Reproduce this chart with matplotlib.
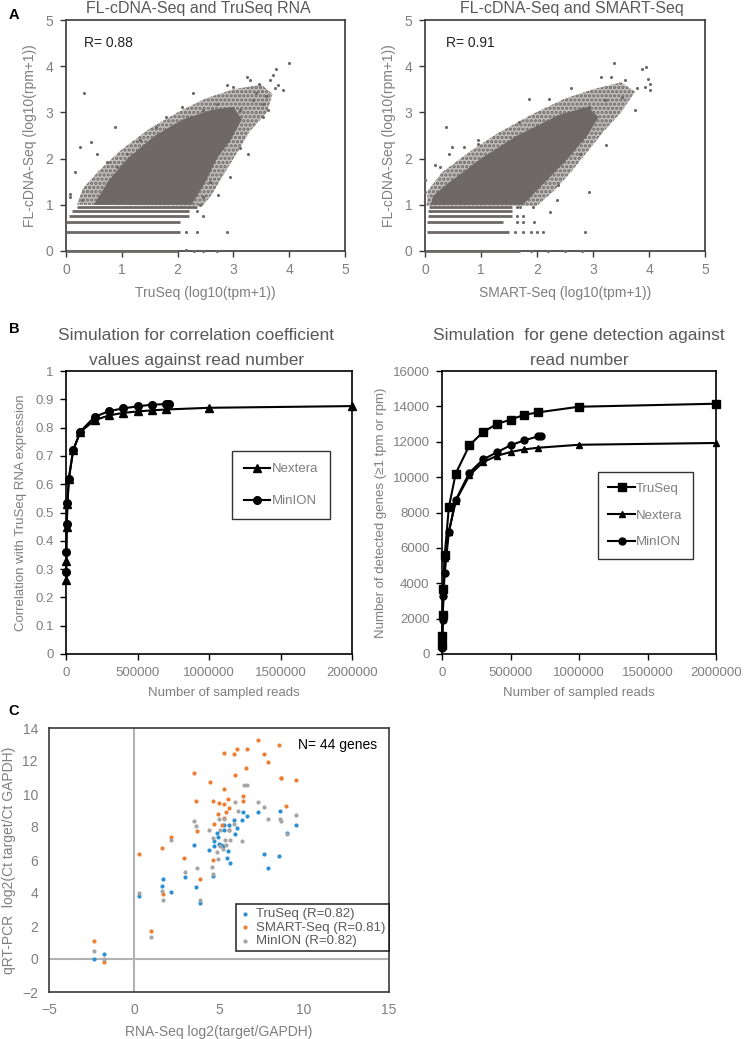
import matplotlib
matplotlib.use('Agg')
import matplotlib.pyplot as plt
from matplotlib.patches import Polygon

plt.rcParams['font.family'] = ['Liberation Sans', 'DejaVu Sans']
plt.rcParams['hatch.linewidth'] = 1.6

# ---------------- DATA ----------------
# Panel A: dense cloud envelopes (inner = solid, outer = speckled halo), count stripes, outliers
a_stripe_y = [0.0, 0.41, 0.617, 0.757, 0.862, 0.947]

a1_inner_x = [0.5, 0.75, 1.1, 1.6, 2.1, 2.6, 3.0, 3.15, 2.95, 2.7, 2.5, 2.25]
a1_inner_y = [1.0, 1.5, 2.0, 2.5, 2.85, 3.05, 3.12, 2.85, 2.4, 2.0, 1.5, 1.0]
a1_outer_x = [0.2, 0.3, 0.6, 1.0, 1.5, 2.0, 2.5, 3.0, 3.5, 3.7, 3.6, 3.3, 3.05, 2.8, 2.6, 2.45]
a1_outer_y = [1.0, 1.35, 1.75, 2.2, 2.65, 3.0, 3.3, 3.5, 3.6, 3.4, 3.0, 2.6, 2.1, 1.6, 1.2, 0.98]
a1_stripe_x0 = [0.0, 0.0, 0.0, 0.05, 0.1, 0.2]
a1_stripe_x1 = [2.0, 2.05, 2.05, 2.2, 2.2, 2.35]
a1_out_x = [0.33, 0.88, 0.25, 0.44, 0.55, 0.07, 0.08, 0.16, 0.28, 0.73, 3.99, 3.76, 3.71, 3.75,
            3.89, 3.24, 2.88, 3.0, 2.28, 2.07, 3.27, 3.12, 2.94, 2.73, 2.58, 2.88, 3.53, 3.36,
            3.62, 3.53, 3.41, 3.12, 2.7, 2.46, 1.8, 1.62, 1.33, 1.09, 0.91, 2.4, 2.46, 2.15,
            2.35, 2.45, 2.35, 2.15, 2.3, 2.7, 2.45, 3.3, 3.45, 3.65, 3.58, 3.8]
a1_out_y = [3.43, 2.69, 2.25, 2.36, 2.11, 1.24, 1.17, 1.71, 1.1, 1.93, 4.08, 3.95, 3.8, 3.52,
            3.48, 3.77, 3.59, 3.55, 3.43, 3.12, 2.11, 2.22, 1.6, 1.21, 1.49, 0.41, 3.19, 3.26,
            3.05, 2.9, 3.41, 3.05, 3.19, 3.05, 2.9, 2.69, 2.4, 2.11, 1.82, 0.99, 1.17, 0.41,
            0.41, 0.757, 0.862, 0.02, 0.0, 0.0, 0.01, 3.7, 3.62, 3.7, 3.35, 3.6]

a2_inner_x = [0.1, 0.15, 0.45, 1.0, 1.65, 2.4, 2.9, 3.1, 2.9, 2.55, 2.15, 1.75]
a2_inner_y = [1.0, 1.2, 1.5, 2.0, 2.5, 2.95, 3.12, 2.9, 2.5, 2.0, 1.5, 1.0]
a2_outer_x = [0.03, 0.05, 0.3, 0.8, 1.3, 1.9, 2.5, 3.0, 3.5, 3.75, 3.5, 3.2, 2.9, 2.6, 2.3, 2.0]
a2_outer_y = [0.98, 1.3, 1.7, 2.15, 2.55, 2.95, 3.3, 3.5, 3.65, 3.45, 3.0, 2.6, 2.15, 1.7, 1.3, 0.98]
a2_stripe_x0 = [0.0, 0.03, 0.03, 0.05, 0.05, 0.07]
a2_stripe_x1 = [1.7, 1.5, 1.4, 1.55, 1.55, 1.55]
a2_out_x = [0.37, 0.48, 0.43, 0.7, 0.18, 0.27, 0.0, 0.0, 0.94, 0.95, 1.42, 1.67, 1.86, 2.21,
            2.61, 3.38, 3.14, 3.33, 3.57, 3.88, 3.94, 3.99, 4.02, 4.01, 3.93, 3.78, 3.75, 3.23,
            2.77, 2.92, 2.86, 2.24, 2.35, 2.38, 2.02, 1.93, 3.51, 3.21, 2.92, 1.6, 1.75, 1.9,
            2.0, 2.1, 1.65, 1.75, 1.95, 1.65, 1.75, 1.65, 1.7, 1.9, 2.2, 2.5, 2.8]
a2_out_y = [2.69, 2.25, 2.11, 2.25, 1.86, 1.82, 1.53, 1.28, 2.4, 2.32, 2.25, 2.79, 3.3, 3.28,
            3.53, 4.08, 3.77, 3.77, 3.7, 3.95, 3.99, 3.73, 3.62, 3.49, 3.55, 3.52, 3.05, 2.29,
            2.11, 1.28, 0.41, 0.84, 1.1, 1.42, 1.39, 0.95, 3.34, 3.26, 3.12, 0.41, 0.41, 0.41,
            0.41, 0.41, 0.617, 0.617, 0.617, 0.757, 0.757, 0.947, 0.947, 0.0, 0.01, 0.0, 0.0]

# Panel B
reads_other = [1000, 2000, 5000, 10000, 20000, 50000, 100000, 200000, 300000, 400000,
               500000, 600000, 700000, 1000000, 2000000]
reads_minion = [1000, 2000, 5000, 10000, 20000, 50000, 100000, 200000, 300000, 400000,
                500000, 600000, 700000, 720000]
nextera_r = [0.26, 0.33, 0.45, 0.53, 0.62, 0.72, 0.785, 0.826, 0.843, 0.852, 0.857, 0.861,
             0.864, 0.870, 0.876]
minion_r = [0.29, 0.36, 0.46, 0.535, 0.62, 0.72, 0.786, 0.838, 0.858, 0.868, 0.875, 0.881,
            0.883, 0.884]
truseq_g = [500, 1000, 2200, 3700, 5600, 8300, 10200, 11800, 12550, 13000, 13250, 13520,
            13660, 13980, 14150]
nextera_g = [400, 900, 2000, 3400, 5400, 6900, 8650, 10100, 10850, 11200, 11420, 11570,
             11660, 11830, 11930]
minion_g = [350, 800, 1900, 3300, 4600, 6900, 8700, 10250, 11000, 11400, 11800, 12080,
            12300, 12320]

# Panel C
truseq_x = [7.29, 8.59, 9.53, 8.98, 7.66, 8.5, 7.89, 6.4, 6.62, 6.33, 6.07, 5.9, 5.94, 5.61,
            5.27, 5.27, 4.9, 4.92, 4.69, 4.69, 4.43, 4.98, 5.14, 5.25, 5.55, 5.45, 5.64, 4.63,
            3.54, 2.99, 1.68, 1.62, 2.2, 3.63, 3.91, 0.31, -2.34, -1.76]
truseq_y = [8.91, 9.0, 8.1, 7.63, 6.36, 6.23, 5.5, 8.89, 8.64, 8.4, 7.94, 8.4, 7.55, 8.14,
            8.14, 7.83, 7.63, 7.41, 7.15, 6.82, 6.58, 6.94, 6.9, 6.86, 6.52, 6.13, 5.81, 5.06,
            6.9, 4.96, 4.84, 4.43, 4.09, 4.39, 3.38, 3.83, 0.02, 0.3]
smart_x = [7.29, 8.5, 5.29, 5.88, 6.07, 6.64, 7.66, 7.91, 3.54, 4.45, 5.94, 6.56, 8.63, 8.67,
           9.53, 5.27, 3.65, 4.65, 5.0, 5.27, 5.53, 6.4, 6.43, 8.96, 5.59, 5.43, 4.94, 5.31,
           4.71, 5.16, 5.57, 3.71, 2.2, 1.62, 2.97, 4.65, 0.31, 3.91, 1.68, 0.98, -2.34, -1.76]
smart_y = [13.28, 13.0, 12.5, 12.45, 12.75, 12.7, 12.45, 11.94, 11.3, 10.7, 11.17, 11.6, 10.95,
           11.0, 10.87, 10.3, 9.6, 9.57, 9.47, 9.39, 9.72, 9.6, 9.9, 9.27, 9.17, 8.89, 8.79, 8.52,
           8.16, 8.1, 7.83, 7.73, 7.41, 6.74, 6.13, 6.03, 6.36, 4.84, 3.93, 1.72, 1.11, -0.2]
minion_x = [6.46, 6.66, 5.92, 7.29, 7.66, 6.09, 5.0, 5.29, 7.89, 8.59, 8.67, 9.53, 8.98, 3.54,
            3.65, 4.43, 5.04, 5.57, 5.9, 4.67, 2.2, 5.63, 5.35, 6.37, 5.04, 5.41, 5.21, 4.88,
            4.92, 4.61, 3.69, 2.99, 4.67, 1.62, 1.68, 3.91, 0.31, 0.98, -2.34, -1.76]
minion_y = [10.53, 10.53, 9.49, 9.51, 9.19, 8.95, 8.48, 8.48, 8.48, 8.48, 8.36, 8.72, 7.57, 8.34,
            8.04, 7.83, 7.83, 7.83, 8.2, 7.35, 7.21, 7.19, 7.19, 7.17, 6.84, 6.88, 6.68, 6.48,
            6.05, 5.57, 5.53, 5.26, 5.14, 4.15, 3.58, 3.58, 3.97, 1.36, 0.47, 0.0]

# ---------------- STYLE ----------------
W, H = 744, 1039
fig = plt.figure(figsize=(W / 100, H / 100), dpi=100)


def frame(l, t, r, b):
    return [l / W, 1 - b / H, (r - l) / W, (b - t) / H]


TXT = '#7f7f7f'
TTL = '#595959'
SCAT = '#6e6868'
SPINE = '#3a3a3a'


def style(ax, tick_size, spine_col=SPINE, ticks=True):
    for s in ax.spines.values():
        s.set_color(spine_col)
        s.set_linewidth(1.2)
    ax.tick_params(axis='both', colors=spine_col, labelcolor=TXT, labelsize=tick_size,
                   direction='out', length=4 if ticks else 0, width=1.0, pad=5)


# ---------------- PANEL A ----------------
def panel_a(rect, title, tx, xlabel, rtext, inner_x, inner_y, outer_x, outer_y,
            sx0, sx1, out_x, out_y, rx):
    ax = fig.add_axes(rect)
    ax.set_xlim(0, 5)
    ax.set_ylim(0, 5)
    ax.add_patch(Polygon(list(zip(outer_x, outer_y)), closed=True, fc=SCAT, ec='none', alpha=0.42,
                         zorder=1))
    ax.add_patch(Polygon(list(zip(outer_x, outer_y)), closed=True, fc='none', ec=SCAT, lw=0,
                         hatch='....', zorder=1))
    ax.add_patch(Polygon(list(zip(inner_x, inner_y)), closed=True, fc=SCAT, ec='none', zorder=2))
    ax.hlines(a_stripe_y, sx0, sx1, colors=SCAT, linewidth=2.0, clip_on=False, zorder=3)
    ax.scatter(out_x, out_y, s=5, c=SCAT, linewidths=0, clip_on=False, zorder=3)
    ax.set_xticks(range(6))
    ax.set_yticks(range(6))
    style(ax, 10)
    ax.set_title(title, color=TTL, fontsize=11.5, pad=5, x=tx)
    ax.set_xlabel(xlabel, color=TXT, fontsize=10, labelpad=6)
    ax.set_ylabel('FL-cDNA-Seq (log10(rpm+1))', color=TXT, fontsize=10, labelpad=6)
    ax.text(rx, 0.9, rtext, transform=ax.transAxes, fontsize=10, color='#222222', va='center')
    return ax


panel_a(frame(66, 20, 345, 251), 'FL-cDNA-Seq and TruSeq RNA', 0.473, 'TruSeq (log10(tpm+1))',
        'R= 0.88', a1_inner_x, a1_inner_y, a1_outer_x, a1_outer_y,
        a1_stripe_x0, a1_stripe_x1, a1_out_x, a1_out_y, 0.065)
panel_a(frame(425, 20, 705, 251), 'FL-cDNA-Seq and SMART-Seq', 0.525, 'SMART-Seq (log10(tpm+1))',
        'R= 0.91', a2_inner_x, a2_inner_y, a2_outer_x, a2_outer_y,
        a2_stripe_x0, a2_stripe_x1, a2_out_x, a2_out_y, 0.075)

# ---------------- PANEL B ----------------
xt = [0, 500000, 1000000, 1500000, 2000000]

axb1 = fig.add_axes(frame(66, 371, 352, 654))
axb1.plot(reads_other, nextera_r, '-^', color='black', lw=1.5, ms=5.5, label='Nextera', clip_on=False)
axb1.plot(reads_minion, minion_r, '-o', color='black', lw=1.5, ms=5.5, label='MinION', clip_on=False)
axb1.set_xlim(0, 2000000)
axb1.set_ylim(0, 1)
axb1.set_xticks(xt)
axb1.set_xticklabels([str(v) for v in xt])
axb1.set_yticks([i / 10 for i in range(11)])
axb1.set_yticklabels(['0', '0.1', '0.2', '0.3', '0.4', '0.5', '0.6', '0.7', '0.8', '0.9', '1'])
style(axb1, 9.5, spine_col='black')
axb1.set_title('Simulation for correlation coefficient\nvalues against read number',
               color=TTL, fontsize=12.5, linespacing=1.9, pad=4, x=0.455)
axb1.set_xlabel('Number of sampled reads', color=TXT, fontsize=9.5, labelpad=7)
axb1.xaxis.set_label_coords(0.552, -0.115)
axb1.set_ylabel('Correlation with TruSeq RNA expression', color=TXT, fontsize=9.5, labelpad=6)
lg = axb1.legend(loc='upper left', bbox_to_anchor=(0.58, 0.717), frameon=True, fancybox=False,
                 edgecolor='black', fontsize=9.5, labelspacing=1.5, handlelength=2.0,
                 handletextpad=0.1, borderpad=0.9, borderaxespad=0)
lg.get_frame().set_linewidth(1.0)
for t in lg.get_texts():
    t.set_color(TXT)

axb2 = fig.add_axes(frame(442, 371, 716, 654))
axb2.plot(reads_other, truseq_g, '-s', color='black', lw=1.5, ms=5.5, label='TruSeq', clip_on=False)
axb2.plot(reads_other, nextera_g, '-^', color='black', lw=1.5, ms=5.0, label='Nextera', clip_on=False)
axb2.plot(reads_minion, minion_g, '-o', color='black', lw=1.5, ms=5.0, label='MinION', clip_on=False)
axb2.set_xlim(0, 2000000)
axb2.set_ylim(0, 16000)
axb2.set_xticks(xt)
axb2.set_xticklabels([str(v) for v in xt])
axb2.set_yticks(range(0, 16001, 2000))
style(axb2, 9.5, spine_col='black')
axb2.set_title('Simulation  for gene detection against\nread number',
               color=TTL, fontsize=12.5, linespacing=1.9, pad=4)
axb2.set_xlabel('Number of sampled reads', color=TXT, fontsize=9.5, labelpad=7)
axb2.xaxis.set_label_coords(0.5, -0.115)
axb2.set_ylabel('Number of detected genes (\u22651 tpm or rpm)', color=TXT, fontsize=9.5, labelpad=4)
lg2 = axb2.legend(loc='upper left', bbox_to_anchor=(0.569, 0.643), frameon=True, fancybox=False,
                  edgecolor='black', fontsize=9.5, labelspacing=1.1, handlelength=2.0,
                  handletextpad=0.1, borderpad=0.8, borderaxespad=0)
lg2.get_frame().set_linewidth(1.0)
for t in lg2.get_texts():
    t.set_color(TXT)

# ---------------- PANEL C ----------------
axc = fig.add_axes(frame(49, 728, 389, 992))
axc.axvline(0, color='#b3b3b3', lw=1.5, zorder=1)
axc.axhline(0, color='#b3b3b3', lw=1.5, zorder=1)
axc.scatter(truseq_x, truseq_y, s=9, c='#2b8fd3', linewidths=0, label='TruSeq (R=0.82)', zorder=3)
axc.scatter(smart_x, smart_y, s=9, c='#ed7d31', linewidths=0, label='SMART-Seq (R=0.81)', zorder=3)
axc.scatter(minion_x, minion_y, s=9, c='#a5a5a5', linewidths=0, label='MinION (R=0.82)', zorder=3)
axc.set_xlim(-5, 15)
axc.set_ylim(-2, 14)
axc.set_xticks([-5, 0, 5, 10, 15])
axc.set_yticks(range(-2, 15, 2))
style(axc, 10, ticks=False)
axc.tick_params(pad=8)
axc.set_xlabel('RNA-Seq log2(target/GAPDH)', color=TXT, fontsize=10, labelpad=6)
axc.set_ylabel('qRT-PCR  log2(Ct target/Ct GAPDH)', color=TXT, fontsize=10, labelpad=4)
axc.text(0.732, 0.936, 'N= 44 genes', transform=axc.transAxes, fontsize=10, color='black', va='center')
lg3 = axc.legend(loc='upper left', bbox_to_anchor=(0.55, 0.333), frameon=True, fancybox=False,
                 edgecolor='black', fontsize=9.5, labelspacing=0.1, handlelength=0.8,
                 handletextpad=0.4, borderpad=0.3, borderaxespad=0, markerscale=1.0)
lg3.get_frame().set_linewidth(1.2)
for t in lg3.get_texts():
    t.set_color('#595959')

# ---------------- PANEL LABELS ----------------
for lab, y in [('A', 15), ('B', 329), ('C', 711)]:
    fig.text(14 / W, 1 - y / H, lab, fontsize=10.5, fontweight='bold', va='center', ha='center')

fig.savefig('out.png', dpi=100)
